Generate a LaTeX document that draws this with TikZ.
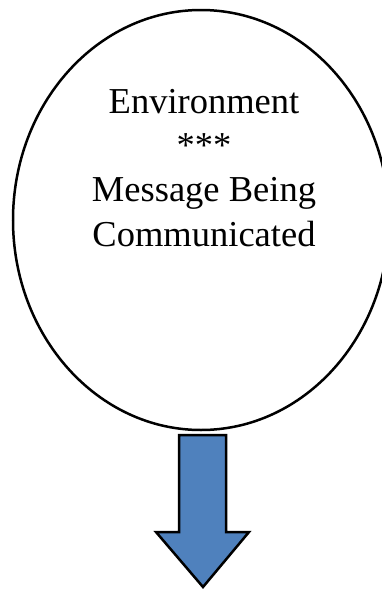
\documentclass[tikz,border=0pt]{standalone}
\usepackage{fontspec}
\setmainfont{Liberation Serif}
\usetikzlibrary{positioning,calc,shapes.geometric}
\definecolor{ArrowBlue}{RGB}{79,129,189}

\begin{document}
\begin{tikzpicture}[x=1pt,y=-1pt,every node/.style={font=\fontsize{36.5}{44.3}\selectfont}]
\tikzset{envblock/.style={draw=black,line width=2.5pt,ellipse,minimum width=376pt,minimum height=420pt,inner sep=0pt},
downarrow/.style={draw=black,line width=2.5pt,fill=ArrowBlue,line join=miter}}
\useasboundingbox (0,0) rectangle (382,590);
\clip (0,0) rectangle (382,590);
\node[envblock] (env) at (201,220) {};
\node[align=center,anchor=base,inner sep=0pt] (msg) at (204,246) {Environment\\***\\Message Being\\Communicated};
% block arrow below the circle
\coordinate (tip) at (203,587);
\draw[downarrow] (179,435) -- (226,435) -- (226,532) -- (249,532) -- (tip) -- (156,532) -- (179,532) -- cycle;
\end{tikzpicture}
\end{document}
